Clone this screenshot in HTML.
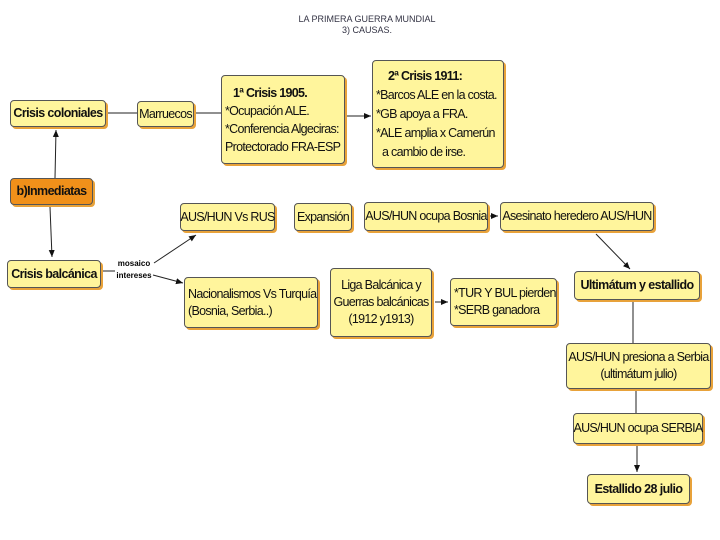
<!DOCTYPE html>
<html><head><meta charset="utf-8"><style>
body{margin:0;width:720px;height:540px;background:#fff;position:relative;overflow:hidden;font-family:"Liberation Sans",sans-serif;}
.b{position:absolute;box-sizing:border-box;background:#fff59c;border:1px solid #555;border-radius:4px;box-shadow:2px 2px 0 #e8a23a;font-size:12.5px;letter-spacing:-0.7px;color:#111;display:flex;align-items:center;justify-content:center;text-align:center;line-height:17px;white-space:nowrap}
.l{justify-content:flex-start;text-align:left;padding-left:3px}
.bold{font-weight:bold;font-size:12.5px;letter-spacing:-0.6px}
.t{position:absolute;font-size:9px;color:#334;width:720px;text-align:center;left:7px}
svg{position:absolute;left:0;top:0}
</style></head><body>
<div class="t" style="top:14px">LA PRIMERA GUERRA MUNDIAL</div>
<div class="t" style="top:25px">3) CAUSAS.</div>
<svg width="720" height="540">
<defs><marker id="a" markerWidth="8" markerHeight="8" refX="7" refY="4" orient="auto"><path d="M0,1 L7,4 L0,7z" fill="#111"/></marker></defs>
<g stroke="#222" stroke-width="1" fill="none">
<line x1="106" y1="113" x2="137" y2="113"/>
<line x1="194" y1="113" x2="221" y2="113"/>
<line x1="345" y1="116" x2="371" y2="116" marker-end="url(#a)"/>
<line x1="55" y1="178" x2="56" y2="130" marker-end="url(#a)"/>
<line x1="50" y1="207" x2="52" y2="257" marker-end="url(#a)"/>
<line x1="101" y1="271" x2="115" y2="271"/>
<line x1="154" y1="263" x2="196" y2="235" marker-end="url(#a)"/>
<line x1="153" y1="275" x2="183" y2="283" marker-end="url(#a)"/>
<line x1="490" y1="216" x2="498" y2="216" marker-end="url(#a)"/>
<line x1="435" y1="302" x2="448" y2="302" marker-end="url(#a)"/>
<line x1="596" y1="234" x2="630" y2="269" marker-end="url(#a)"/>
<line x1="633" y1="301" x2="633" y2="343"/>
<line x1="636" y1="389" x2="636" y2="413"/>
<line x1="637" y1="444" x2="637" y2="472" marker-end="url(#a)"/>
</g>
<text x="134" y="266" font-size="8" font-weight="bold" text-anchor="middle" font-family="Liberation Sans">mosaico</text>
<text x="134" y="278" font-size="8" font-weight="bold" text-anchor="middle" font-family="Liberation Sans">intereses</text>
</svg>
<div class="b bold" style="left:10px;top:100px;width:96px;height:27px">Crisis coloniales</div>
<div class="b" style="left:137px;top:101px;width:57px;height:26px">Marruecos</div>
<div class="b l" style="left:221px;top:75px;width:124px;height:89px;flex-direction:column;align-items:flex-start;justify-content:center;line-height:18px"><b style="margin-left:8px">1ª Crisis 1905.</b><span>*Ocupación ALE.</span><span>*Conferencia Algeciras:</span><span>Protectorado FRA-ESP</span></div>
<div class="b l" style="left:372px;top:60px;width:132px;height:108px;flex-direction:column;align-items:flex-start;justify-content:center;line-height:19px"><b style="margin-left:12px">2ª Crisis 1911:</b><span>*Barcos ALE en la costa.</span><span>*GB apoya a FRA.</span><span>*ALE amplia x Camerún</span><span style="margin-left:6px">a cambio de irse.</span></div>
<div class="b bold" style="left:10px;top:178px;width:83px;height:27px;background:#f0901a">b)Inmediatas</div>
<div class="b bold" style="left:7px;top:260px;width:94px;height:28px">Crisis balcánica</div>
<div class="b" style="left:180px;top:203px;width:95px;height:28px">AUS/HUN Vs RUS</div>
<div class="b" style="left:294px;top:203px;width:58px;height:28px">Expansión</div>
<div class="b" style="left:364px;top:202px;width:124px;height:29px">AUS/HUN ocupa Bosnia</div>
<div class="b" style="left:500px;top:202px;width:154px;height:29px">Asesinato heredero AUS/HUN</div>
<div class="b l" style="left:184px;top:277px;width:134px;height:51px;flex-direction:column;align-items:flex-start;justify-content:center"><span>Nacionalismos Vs Turquía</span><span>(Bosnia, Serbia..)</span></div>
<div class="b" style="left:330px;top:268px;width:102px;height:69px;flex-direction:column"><span>Liga Balcánica y</span><span>Guerras balcánicas</span><span>(1912 y1913)</span></div>
<div class="b l" style="left:450px;top:278px;width:107px;height:48px;flex-direction:column;align-items:flex-start;justify-content:center"><span>*TUR Y BUL pierden</span><span>*SERB ganadora</span></div>
<div class="b bold" style="left:574px;top:271px;width:126px;height:29px">Ultimátum y estallido</div>
<div class="b" style="left:566px;top:343px;width:145px;height:46px;flex-direction:column"><span>AUS/HUN presiona a Serbia</span><span>(ultimátum julio)</span></div>
<div class="b" style="left:573px;top:413px;width:130px;height:31px">AUS/HUN ocupa SERBIA</div>
<div class="b bold" style="left:587px;top:474px;width:103px;height:30px">Estallido 28 julio</div>
</body></html>
